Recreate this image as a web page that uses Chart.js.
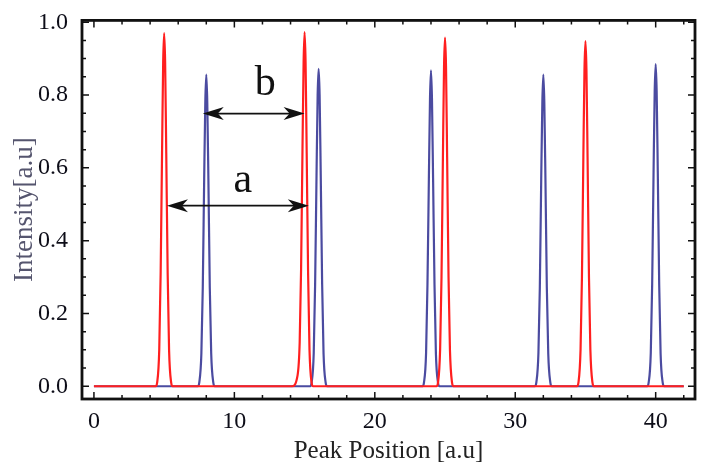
<!DOCTYPE html>
<html>
<head>
<meta charset="utf-8">
<script src="https://cdn.jsdelivr.net/npm/chart.js@4/dist/chart.umd.min.js"></script>
<style>
  html, body { margin: 0; padding: 0; background: #fff; }
  #wrap { width: 702px; height: 466px; }
</style>
</head>
<body>
<div id="wrap"><canvas id="peakChart" width="702" height="466"></canvas></div>
<script>
// red series: peaks near 5, 15, 25, 35
const redX = [
  0,
  4.4, 4.5, 4.65, 4.75, 4.85, 4.93, 5, 5.07, 5.15, 5.25, 5.35, 5.5, 5.6,
  14.1, 14.5, 14.65, 14.75, 14.85, 14.93, 15, 15.07, 15.15, 15.25, 15.35, 15.5, 15.6,
  24.4, 24.5, 24.65, 24.75, 24.85, 24.93, 25, 25.07, 25.15, 25.25, 25.35, 25.5, 25.6,
  34.4, 34.5, 34.65, 34.75, 34.85, 34.93, 35, 35.07, 35.15, 35.25, 35.35, 35.5, 35.6,
  42
];
const redY = [
  0,
  0, 0.01, 0.10, 0.31, 0.64, 0.89, 0.97, 0.89, 0.64, 0.31, 0.10, 0.01, 0,
  0, 0.03, 0.12, 0.32, 0.65, 0.89, 0.973, 0.89, 0.64, 0.31, 0.10, 0.01, 0,
  0, 0.01, 0.10, 0.30, 0.63, 0.88, 0.958, 0.88, 0.63, 0.30, 0.10, 0.01, 0,
  0, 0.01, 0.10, 0.30, 0.63, 0.87, 0.948, 0.87, 0.63, 0.30, 0.10, 0.01, 0,
  0
];

// blue series: peaks near 8, 16, 24, 32, 40
const blueX = [
  0,
  7.4, 7.5, 7.65, 7.75, 7.85, 7.93, 8, 8.07, 8.15, 8.25, 8.35, 8.5, 8.6,
  15.4, 15.5, 15.65, 15.75, 15.85, 15.93, 16, 16.07, 16.15, 16.25, 16.35, 16.5, 16.6,
  23.4, 23.5, 23.65, 23.75, 23.85, 23.93, 24, 24.07, 24.15, 24.25, 24.35, 24.5, 24.6,
  31.4, 31.5, 31.65, 31.75, 31.85, 31.93, 32, 32.07, 32.15, 32.25, 32.35, 32.5, 32.6,
  39.4, 39.5, 39.65, 39.75, 39.85, 39.93, 40, 40.07, 40.15, 40.25, 40.35, 40.5, 40.6,
  42
];
const blueY = [
  0,
  0, 0.01, 0.09, 0.27, 0.57, 0.78, 0.856, 0.78, 0.57, 0.27, 0.09, 0.01, 0,
  0, 0.01, 0.09, 0.28, 0.58, 0.80, 0.872, 0.80, 0.58, 0.28, 0.09, 0.01, 0,
  0, 0.01, 0.09, 0.28, 0.57, 0.79, 0.868, 0.79, 0.57, 0.28, 0.09, 0.01, 0,
  0, 0.01, 0.09, 0.27, 0.57, 0.78, 0.856, 0.78, 0.57, 0.27, 0.09, 0.01, 0,
  0, 0.01, 0.09, 0.28, 0.59, 0.81, 0.885, 0.81, 0.59, 0.28, 0.09, 0.01, 0,
  0
];

const xTickLabels = [0, 10, 20, 30, 40];
const yTickLabels = [0, 0.2, 0.4, 0.6, 0.8, 1.0];
const xMinorTicks = [0, 2, 4, 6, 8, 10, 12, 14, 16, 18, 20, 22, 24, 26, 28, 30, 32, 34, 36, 38, 40, 42];
const yMinorTicks = [0, 0.05, 0.1, 0.15, 0.2, 0.25, 0.3, 0.35, 0.4, 0.45, 0.5, 0.55, 0.6, 0.65, 0.7, 0.75, 0.8, 0.85, 0.9, 0.95, 1.0];

// double-headed arrows marking the spacings a and b
const arrows = [
  { from: 5.2, to: 15.3, y: 0.496, label: 'a', labelX: 10.6, labelY: 0.565 },
  { from: 7.75, to: 15.0, y: 0.749, label: 'b', labelX: 12.2, labelY: 0.83 }
];

const serif = '"Liberation Serif", "DejaVu Serif", serif';

function toPoints(xs, ys) {
  return xs.map((x, i) => ({ x: x, y: ys[i] }));
}

function arrowHead(ctx, x, y, dir) {
  // notched arrow head pointing in dir (+1 right, -1 left)
  const len = 21, half = 6.5, notch = 6;
  ctx.beginPath();
  ctx.moveTo(x, y);
  ctx.lineTo(x - dir * len, y - half);
  ctx.lineTo(x - dir * (len - notch), y);
  ctx.lineTo(x - dir * len, y + half);
  ctx.closePath();
  ctx.fill();
}

const framePlugin = {
  id: 'frame',
  afterDatasetsDraw(chart) {
    const { ctx, chartArea: a, scales } = chart;
    const xs = scales.x, ys = scales.y;
    ctx.save();
    ctx.strokeStyle = '#111';
    ctx.fillStyle = '#111';

    // inward ticks on all four sides
    ctx.lineWidth = 1.5;
    ctx.beginPath();
    xMinorTicks.forEach(v => {
      const px = xs.getPixelForValue(v);
      const len = xTickLabels.includes(v) ? 7 : 4;
      ctx.moveTo(px, a.bottom); ctx.lineTo(px, a.bottom - len);
      ctx.moveTo(px, a.top); ctx.lineTo(px, a.top + len);
    });
    yMinorTicks.forEach(v => {
      const py = ys.getPixelForValue(v);
      const major = yTickLabels.some(t => Math.abs(t - v) < 1e-9);
      const len = major ? 7 : 4;
      ctx.moveTo(a.left, py); ctx.lineTo(a.left + len, py);
      ctx.moveTo(a.right, py); ctx.lineTo(a.right - len, py);
    });
    ctx.stroke();

    ctx.lineWidth = 2.8;
    ctx.strokeRect(a.left, a.top, a.right - a.left, a.bottom - a.top);

    // arrows + labels
    arrows.forEach(ar => {
      const x1 = xs.getPixelForValue(ar.from);
      const x2 = xs.getPixelForValue(ar.to);
      const py = ys.getPixelForValue(ar.y);
      ctx.lineWidth = 1.8;
      ctx.beginPath();
      ctx.moveTo(x1 + 10, py);
      ctx.lineTo(x2 - 10, py);
      ctx.stroke();
      arrowHead(ctx, x1, py, -1);
      arrowHead(ctx, x2, py, 1);
      ctx.font = '42px ' + serif;
      ctx.textAlign = 'center';
      ctx.textBaseline = 'middle';
      ctx.fillText(ar.label, xs.getPixelForValue(ar.labelX), ys.getPixelForValue(ar.labelY));
    });
    ctx.restore();
  }
};

new Chart(document.getElementById('peakChart'), {
  type: 'line',
  data: {
    datasets: [
      {
        label: 'red',
        data: toPoints(redX, redY),
        borderColor: '#ff1f1f',
        borderWidth: 2.2,
        pointRadius: 0,
        cubicInterpolationMode: 'monotone'
      },
      {
        label: 'blue',
        data: toPoints(blueX, blueY),
        borderColor: 'rgba(55, 55, 150, 0.9)',
        borderWidth: 2.2,
        pointRadius: 0,
        cubicInterpolationMode: 'monotone'
      }
    ]
  },
  options: {
    responsive: false,
    animation: false,
    layout: { padding: { left: 0, right: 7, top: 17, bottom: 0 } },
    plugins: {
      legend: { display: false },
      tooltip: { enabled: false }
    },
    scales: {
      x: {
        type: 'linear',
        min: -0.85,
        max: 42.8,
        grid: { display: false },
        border: { display: false },
        afterBuildTicks: scale => { scale.ticks = xTickLabels.map(v => ({ value: v })); },
        afterFit: scale => { scale.height = 67; },
        ticks: {
          padding: 0,
          color: '#0d0d18',
          font: { family: serif, size: 24 },
          maxRotation: 0,
          callback: v => String(v)
        },
        title: {
          display: true,
          text: 'Peak Position [a.u]',
          color: '#222',
          font: { family: serif, size: 25 },
          padding: { top: 0, bottom: 0 }
        }
      },
      y: {
        type: 'linear',
        min: -0.035,
        max: 1.005,
        grid: { display: false },
        border: { display: false },
        afterBuildTicks: scale => { scale.ticks = yTickLabels.map(v => ({ value: v })); },
        afterFit: scale => { scale.width = 82; },
        ticks: {
          padding: 6,
          color: '#0d0d18',
          font: { family: serif, size: 24 },
          callback: v => Number(v).toFixed(1)
        },
        title: {
          display: true,
          text: 'Intensity[a.u]',
          color: '#55556e',
          font: { family: serif, size: 27 },
          padding: { top: 9, bottom: 0 }
        }
      }
    }
  },
  plugins: [framePlugin]
});
</script>
</body>
</html>
